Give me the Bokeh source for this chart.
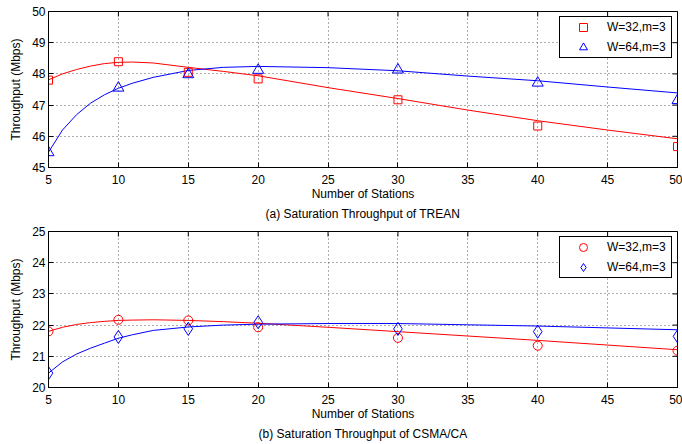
import math
from bokeh.plotting import figure
from bokeh.layouts import column
from bokeh.models import Range1d, FixedTicker, Legend, LegendItem
from bokeh.embed import file_html
from bokeh.resources import INLINE

# ---------------- data ----------------
stations = [5, 10, 15, 20, 30, 40, 50]
x_ticks = [5, 10, 15, 20, 25, 30, 35, 40, 45, 50]

trean_w32 = [47.80, 48.39, 48.05, 47.84, 47.17, 46.33, 45.67]
trean_w64 = [45.48, 47.55, 47.98, 48.12, 48.13, 47.71, 47.15]
trean_y_ticks = [45, 46, 47, 48, 49, 50]

csma_w32 = [21.80, 22.17, 22.15, 21.93, 21.59, 21.34, 21.18]
csma_w64 = [20.46, 21.62, 21.88, 22.09, 21.88, 21.79, 21.64]
csma_y_ticks = [20, 21, 22, 23, 24, 25]

# fitted curves
fit_x = [5, 6, 7, 8, 9, 10, 11, 12.5, 15, 17.5, 20, 25, 30, 35, 40, 45, 50]
trean_fit_w32 = [47.81, 48.00, 48.14, 48.25, 48.33, 48.37, 48.38, 48.35, 48.21, 48.08,
                 47.94, 47.56, 47.21, 46.84, 46.50, 46.20, 45.92]
trean_fit_w64 = [45.49, 46.20, 46.69, 47.06, 47.33, 47.54, 47.70, 47.89, 48.11, 48.21,
                 48.24, 48.20, 48.10, 47.93, 47.78, 47.58, 47.39]
csma_fit_w32 = [21.80, 21.93, 22.02, 22.08, 22.12, 22.15, 22.16, 22.17, 22.15, 22.11,
                22.06, 21.93, 21.79, 21.65, 21.51, 21.36, 21.21]
csma_fit_w64 = [20.46, 20.82, 21.07, 21.26, 21.42, 21.58, 21.69, 21.83, 21.94, 22.00,
                22.03, 22.05, 22.05, 22.01, 21.97, 21.91, 21.85]

series_labels = ["W=32,m=3", "W=64,m=3"]
x_label = "Number of Stations"
y_label = "Throughput (Mbps)"
captions = ["(a) Saturation Throughput of TREAN", "(b) Saturation Throughput of CSMA/CA"]

FONT = "Liberation Sans"
RED = "#ff0000"
BLUE = "#0000ff"
X_MIN, X_MAX = 5, 50


def style_axis(ax, ticks):
    ax.ticker = FixedTicker(ticks=ticks)
    ax.major_tick_in = 5
    ax.major_tick_out = 0
    ax.minor_tick_line_color = None
    ax.axis_line_color = "black"
    ax.major_tick_line_color = "black"
    ax.major_label_text_font = FONT
    ax.major_label_text_color = "black"
    ax.major_label_text_font_size = "12px"
    ax.axis_label_text_font = FONT
    ax.axis_label_text_font_size = "12px"
    ax.axis_label_text_font_style = "normal"
    ax.axis_label_text_color = "black"


def make_panel(y_ticks, ymin, ymax, d32, d64, f32, f64, m32, m64, s32, s64,
               caption, height, top, bottom):
    p = figure(width=682, height=height, output_backend="svg", toolbar_location=None,
               x_range=Range1d(X_MIN, X_MAX), y_range=Range1d(ymin, ymax),
               min_border=0, min_border_left=48, min_border_right=5,
               min_border_top=top, min_border_bottom=bottom,
               title=caption, title_location="below")
    p.background_fill_color = "white"
    p.border_fill_color = "white"
    p.outline_line_color = "black"
    p.outline_line_width = 1
    p.outline_line_alpha = 1

    p.title.align = "center"
    p.title.text_font = FONT
    p.title.text_font_size = "12px"
    p.title.text_font_style = "normal"
    p.title.text_color = "black"
    p.title.standoff = 3

    style_axis(p.xaxis[0], x_ticks)
    style_axis(p.yaxis[0], y_ticks)
    p.xaxis[0].major_label_standoff = 7
    p.xaxis[0].axis_label_standoff = 0
    p.yaxis[0].major_label_standoff = 3
    p.yaxis[0].axis_label_standoff = 6
    p.xaxis[0].axis_label = x_label
    p.yaxis[0].axis_label = y_label

    p.xgrid.ticker = FixedTicker(ticks=x_ticks)
    p.ygrid.ticker = FixedTicker(ticks=y_ticks)
    for g in (p.xgrid, p.ygrid):
        g.grid_line_color = "#333333"
        g.grid_line_alpha = 0.8
        g.grid_line_dash = "1 3"
        g.grid_line_width = 1

    # inner tick marks on the top and right edges of the box
    p.scatter(x_ticks, [ymax] * len(x_ticks), marker="dash", angle=math.pi / 2,
              size=10, line_color="black", line_width=1)
    p.scatter([X_MAX] * len(y_ticks), y_ticks, marker="dash", angle=0,
              size=10, line_color="black", line_width=1)

    p.line(fit_x, f32, line_color=RED, line_width=1)
    p.line(fit_x, f64, line_color=BLUE, line_width=1)
    r32 = p.scatter(stations, d32, marker=m32, size=s32, fill_color=None,
                    line_color=RED, line_width=1)
    r64 = p.scatter(stations, d64, marker=m64, size=s64, fill_color=None,
                    line_color=BLUE, line_width=1)

    legend = Legend(items=[LegendItem(label=series_labels[0], renderers=[r32]),
                           LegendItem(label=series_labels[1], renderers=[r64])],
                    location="top_right")
    legend.margin = 5
    legend.padding = 0
    legend.spacing = -5
    legend.glyph_width = 46
    legend.glyph_height = 20
    legend.label_height = 20
    legend.label_width = 64
    legend.label_standoff = 1
    legend.label_text_font = FONT
    legend.label_text_font_size = "12px"
    legend.label_text_color = "black"
    legend.border_line_color = "black"
    legend.border_line_width = 1
    legend.border_line_alpha = 1
    legend.background_fill_color = "white"
    legend.background_fill_alpha = 1
    p.add_layout(legend)
    return p


p1 = make_panel(trean_y_ticks, 45, 50, trean_w32, trean_w64, trean_fit_w32, trean_fit_w64,
                "square", "triangle", 8, 11, captions[0], 222, 11, 55)
p2 = make_panel(csma_y_ticks, 20, 25, csma_w32, csma_w64, csma_fit_w32, csma_fit_w64,
                "circle", "diamond", 9, 13, captions[1], 222, 9, 57)

layout = column(p1, p2, spacing=0)
open("out.html", "w").write(file_html(layout, INLINE))
